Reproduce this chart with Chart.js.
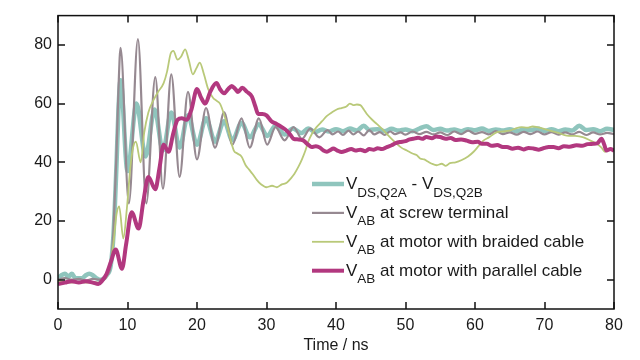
<!DOCTYPE html>
<html><head><meta charset="utf-8">
<script src="https://cdn.jsdelivr.net/npm/chart.js@4.4.0/dist/chart.umd.min.js"></script>
<style>html,body{margin:0;padding:0;background:#fff}#wrap{width:640px;height:360px;position:relative}</style>
</head><body><div id="wrap"><canvas id="c" width="640" height="360"></canvas></div>
<script>
const xTicks = [0,10,20,30,40,50,60,70,80];
const yTicks = [0,20,40,60,80];
const xTitle = 'Time / ns';
// legend labels: alternating normal / subscript parts
const legendParts = [
  ['V','DS,Q2A',' - V','DS,Q2B'],
  ['V','AB',' at screw terminal'],
  ['V','AB',' at motor with braided cable'],
  ['V','AB',' at motor with parallel cable']
];
// [time ns, voltage V]
const vdsDiff = [[0,0.5],[0.5,1.5],[1,2],[1.5,1],[2,2],[2.5,0.5],[3,0.5],[3.5,0.5],[4,1.5],[4.5,2],[5,1.5],[5.5,0.5],[6,0],[6.5,0.3],[7,1.5],[7.6,5],[8.0,16],[8.4,38],[8.7,58],[9.0,68],[10.0,37],[11.3,60],[12.6,42],[13.9,58],[15.1,44],[16.3,57],[17.5,45],[18.7,56],[20.0,46],[21.3,55],[22.6,47],[23.9,54],[25.1,47.5],[26.4,53.5],[27.6,48.5],[28.9,53],[30.1,49],[31.3,52.5],[32.6,49.5],[33.8,51.5],[35,50],[36,51.5],[37,50.3],[38,51.2],[39,50.5],[40,51.3],[41,50.6],[42,51.5],[43,50.8],[44,52.5],[44.8,51],[46,51.3],[47,50.6],[48,51.4],[49,50.8],[50,51.2],[51,50.6],[52,51.5],[53,52.3],[54,51],[55,51.4],[56,50.8],[57,51.2],[58,50.6],[59,51.3],[60,50.9],[61,51.5],[62,50.7],[63,51.2],[64,50.8],[65,51.3],[66,50.6],[67,51.2],[68,50.9],[69,51.5],[70,50.7],[71,51.3],[72,50.6],[73,51.2],[74,50.8],[75,52.5],[76,51],[77,51.3],[78,50.6],[79,51.4],[80,51]];
const screwTerminal = [[0,0],[1,0.5],[2,0],[3,0.3],[4,-0.3],[5,0.3],[6,0],[6.5,0.5],[7,1.5],[7.6,5],[8.0,18],[8.4,42],[8.7,65],[9.0,79],[10.2,26],[11.5,82],[12.7,26],[14.0,69],[15.1,31],[16.3,70],[17.5,35],[18.7,64],[20.0,41],[21.3,58.5],[22.6,45],[23.9,57],[25.1,46],[26.4,55],[27.6,45],[28.9,55],[30.1,46],[31.3,52],[32.6,47.5],[33.9,52],[35.1,48],[36.3,51.5],[37.6,48.5],[38.8,51],[39.5,49.5],[40.3,50.5],[41,49.3],[41.8,50.8],[42.5,49.5],[43.2,50.5],[44,49.2],[44.8,51],[45.5,49.5],[46.3,50.3],[47,49.3],[47.8,50.5],[48.5,49.6],[49.3,50.2],[50,49.4],[51,50.5],[52,49.6],[53,50.4],[54,49.5],[55,50.2],[56,49.3],[57,50.5],[58,49.6],[59,50.8],[60,49.7],[61,50.3],[62,49.5],[63,50.6],[64,49.6],[65,50.2],[66,49.4],[67,50.4],[68,49.6],[69,50.5],[70,49.5],[71,50.3],[72,49.4],[73,50.2],[74,49.5],[75,50.4],[76,49.3],[77,50.2],[78,49.5],[79,50],[80,49.6]];
const braidedCable = [[0,-0.5],[1,-0.8],[2,-1],[3,-0.7],[4,-1],[5,-0.8],[6,-1],[6.5,0],[7,1],[7.5,5],[8.0,13],[8.4,22],[8.8,25],[9.4,14],[9.9,24],[10.4,38],[10.8,45],[11.2,47],[11.9,40],[12.4,50],[13.0,57],[13.7,61],[14.4,64],[15.2,67],[15.7,71],[16.2,77],[16.6,78],[17.2,75],[17.7,76],[18.3,78.5],[18.8,75],[19.4,70],[19.9,72],[20.4,74],[21.0,70],[21.6,65],[22.3,62],[22.8,61],[23.3,60],[23.8,57],[24.3,53],[24.8,48],[25.3,44],[25.8,43],[26.4,42],[27.0,39],[27.5,37.5],[28.0,36],[28.6,34],[29.2,32.5],[30.0,31.5],[30.8,32],[31.5,31.5],[32.2,32.5],[32.9,33],[33.5,34.5],[34.0,36],[34.6,38.5],[35.1,41],[35.6,44],[36.0,47],[36.6,50],[37.2,52],[38.0,54],[38.7,55.8],[39.4,57],[40.1,58],[40.8,58.5],[41.5,59],[42.0,60],[42.5,59.5],[43.0,59.7],[43.5,59.5],[44.0,58],[44.5,56.3],[45.2,54.5],[45.9,53],[46.6,51.5],[47.3,49.7],[48.0,48],[48.7,46.4],[49.4,45],[50.2,44],[51.0,43],[51.6,42.5],[52.1,41.3],[52.7,41],[53.2,40.3],[53.8,39.5],[54.5,39],[55.2,39.5],[55.8,38.8],[56.4,39.7],[57.2,40],[58.1,40.8],[59.0,42],[59.8,43.6],[60.5,45.5],[61.2,47.4],[62.0,48.5],[63.1,50.2],[64.0,50.5],[65.0,50.8],[65.8,51.5],[66.7,52],[67.5,51.8],[68.3,52.2],[68.9,52],[69.8,51.5],[70.8,50.8],[72,50],[73.2,49.1],[74.4,49],[75.5,48.6],[76.5,47.5],[77.5,46.3],[78.2,45],[78.7,43.6],[79.3,44.5],[80,44]];
const parallelCable = [[0,-1.5],[1,-1],[2,-0.5],[3,-1],[4,-0.5],[5,-1],[5.8,-1.5],[6.3,-0.5],[7,2],[7.6,6],[8.3,10.3],[9.2,3.7],[9.8,12],[10.6,23],[11.6,17.4],[12.3,27],[13.0,35],[14.0,30.8],[14.6,38],[15.2,46],[15.9,43.6],[16.6,50],[17.2,54.5],[17.8,55],[18.5,54.5],[19.2,58],[20.0,65],[20.6,62],[21.2,60],[21.9,64],[22.8,67],[23.3,65],[23.9,63.5],[24.5,65],[25.0,66],[25.5,65],[25.9,64],[26.5,65.4],[27.2,64],[27.9,62.4],[28.4,59],[28.8,56.5],[29.4,56.5],[30.0,56],[30.7,54],[31.5,53],[32.2,52],[32.9,50.8],[33.4,49.5],[33.9,48],[34.6,47.8],[35.3,47.4],[36.0,46],[36.5,45.2],[37.1,45.5],[37.7,45],[38.2,44],[38.7,43.6],[39.2,44.2],[39.6,44.7],[40.2,44],[40.8,43.5],[41.5,44],[42.2,44.5],[42.8,44],[43.5,44.3],[44.2,43.8],[44.8,44.5],[45.4,44.3],[46.0,44.8],[46.6,44.5],[47.3,45.2],[48.0,45.8],[48.6,46.5],[49.2,46.9],[50.0,47.2],[50.6,47.8],[51.1,48],[51.8,48.4],[52.4,48],[53.0,48.6],[53.8,48.2],[54.4,48.8],[55.0,48.6],[55.8,48],[56.5,48.3],[57.2,47.6],[58.0,47.8],[58.8,47.4],[59.6,46.8],[60.4,47],[61.0,46.3],[61.7,46.3],[62.4,45.6],[63.2,45.9],[64.0,45.2],[64.6,45.2],[65.4,44.6],[66.2,45],[67.0,44.4],[67.7,44.9],[68.4,44.7],[69.2,44.3],[70.0,44.9],[70.6,45.2],[71.3,45.2],[72.0,44.8],[72.8,45.5],[73.6,45.3],[74.6,45.8],[75.4,45.6],[76.2,46.2],[77.0,46.3],[77.6,46.5],[78.2,48],[78.6,46],[78.9,44],[79.5,44.5],[80,44]];

const colors = ['#8fc5bd','#968991','#b9c979','#b2387f'];
const widths = [4.5,2.2,1.8,4];
const FONT = '"Liberation Sans", Arial, sans-serif';
const toXY = arr => arr.map(p => ({x:p[0], y:p[1]}));
const seriesData = [vdsDiff, screwTerminal, braidedCable, parallelCable];

const framePlugin = {
  id:'frame',
  afterDatasetsDraw(chart){
    const {ctx, chartArea:a, scales:{x,y}} = chart;
    ctx.save();
    ctx.strokeStyle='#111'; ctx.lineWidth=1.5;
    ctx.strokeRect(a.left,a.top,a.right-a.left,a.bottom-a.top);
    ctx.beginPath();
    x.ticks.forEach(t=>{const px=Math.round(x.getPixelForValue(t.value));
      ctx.moveTo(px,a.bottom); ctx.lineTo(px,a.bottom-7); ctx.moveTo(px,a.top); ctx.lineTo(px,a.top+7);});
    y.ticks.forEach(t=>{const py=Math.round(y.getPixelForValue(t.value));
      ctx.moveTo(a.left,py); ctx.lineTo(a.left+7,py); ctx.moveTo(a.right,py); ctx.lineTo(a.right-7,py);});
    ctx.stroke();
    ctx.restore();
  }
};
const legendPlugin = {
  id:'customLegend',
  afterDraw(chart){
    const ctx = chart.ctx;
    ctx.save();
    const x0 = 312, x1 = 344, tx = 346, y0 = 184, dy = 28.9;
    legendParts.forEach((parts,i)=>{
      const ly = y0 + i*dy;
      ctx.strokeStyle = colors[i]; ctx.lineWidth = widths[i];
      ctx.beginPath(); ctx.moveTo(x0,ly); ctx.lineTo(x1,ly); ctx.stroke();
      let cx = tx; const base = ly + 5;
      ctx.fillStyle = '#1a1a1a'; ctx.textBaseline = 'alphabetic'; ctx.textAlign='left';
      parts.forEach((p,j)=>{
        const sub = j % 2 === 1;
        ctx.font = (sub ? '13.5px ' : '17px ') + FONT;
        ctx.fillText(p, cx, sub ? base + 7.5 : base);
        cx += ctx.measureText(p).width;
      });
    });
    ctx.restore();
  }
};

new Chart(document.getElementById('c'), {
  type:'line',
  data:{ datasets: seriesData.map((d,i)=>({
    label: legendParts[i].join(''),
    data: toXY(d),
    borderColor: colors[i],
    borderWidth: widths[i],
    pointRadius: 0,
    fill:false,
    cubicInterpolationMode:'monotone',
    order: 3 - i
  }))},
  options:{
    responsive:false, animation:false, devicePixelRatio:1,
    layout:{padding:{left:0,right:26,top:10,bottom:0}},
    plugins:{legend:{display:false}, tooltip:{enabled:false}},
    scales:{
      x:{type:'linear', min:0, max:80,
        afterBuildTicks: s => { s.ticks = xTicks.map(v=>({value:v})); },
        afterFit: s => { s.height = 51; },
        grid:{display:false, drawTicks:false}, border:{display:false},
        ticks:{color:'#1a1a1a', font:{family:FONT, size:16}, padding:7, maxRotation:0},
        title:{display:true, text:xTitle, color:'#1a1a1a', font:{family:FONT, size:16}, padding:{top:0,bottom:5}}
      },
      y:{type:'linear', min:-10, max:90,
        afterBuildTicks: s => { s.ticks = yTicks.map(v=>({value:v})); },
        afterFit: s => { s.width = 58; },
        grid:{display:false, drawTicks:false}, border:{display:false},
        ticks:{color:'#1a1a1a', font:{family:FONT, size:16}, padding:6}
      }
    }
  },
  plugins:[framePlugin, legendPlugin]
});
</script>
</body></html>
